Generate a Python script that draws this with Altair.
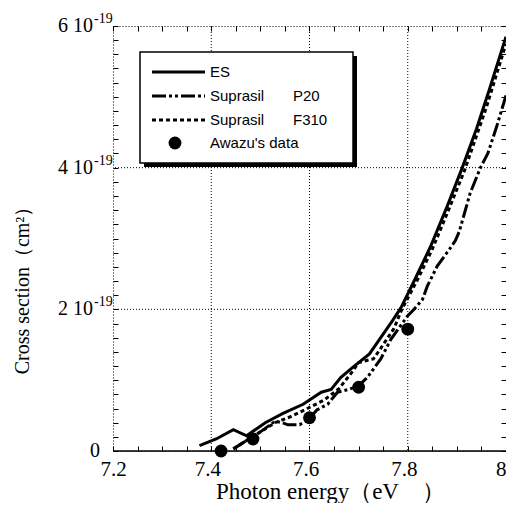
import altair as alt
import pandas as pd

# ---------------- data (x: photon energy eV, y: cross section in 1e-19 cm^2) ----------------
es_x = [7.376, 7.41, 7.445, 7.472, 7.51, 7.546, 7.587, 7.624, 7.644, 7.664, 7.688, 7.722,
        7.745, 7.769, 7.786, 7.813, 7.846, 7.88, 7.911, 7.94, 7.965, 8.0]
es_y = [0.075, 0.17, 0.30, 0.215, 0.40, 0.53, 0.66, 0.83, 0.87, 1.04, 1.18, 1.37,
        1.60, 1.84, 2.02, 2.40, 2.88, 3.45, 4.0, 4.55, 5.08, 5.85]

p20_x = [7.445, 7.47, 7.50, 7.53, 7.545, 7.556, 7.58, 7.60, 7.615, 7.637, 7.657, 7.68,
         7.70, 7.718, 7.745, 7.766, 7.80, 7.813, 7.83, 7.84, 7.86, 7.885, 7.897, 7.905,
         7.927, 7.948, 7.963, 7.981, 8.0]
p20_y = [0.03, 0.14, 0.27, 0.42, 0.40, 0.37, 0.37, 0.46, 0.58, 0.66, 0.83, 0.87,
         0.92, 1.04, 1.30, 1.58, 1.91, 2.0, 2.14, 2.33, 2.61, 2.85, 2.97, 3.10,
         3.64, 4.0, 4.2, 4.58, 5.02]

f310_x = [7.445, 7.47, 7.50, 7.53, 7.56, 7.59, 7.63, 7.66, 7.685, 7.70, 7.73, 7.745,
          7.772, 7.788, 7.82, 7.85, 7.88, 7.915, 7.96, 8.0]
f310_y = [0.03, 0.14, 0.27, 0.40, 0.48, 0.58, 0.72, 0.88, 1.10, 1.25, 1.30, 1.45,
          1.73, 2.0, 2.42, 2.85, 3.35, 3.95, 4.85, 5.75]

awazu_x = [7.42, 7.485, 7.60, 7.70, 7.80]
awazu_y = [0.0, 0.17, 0.47, 0.90, 1.72]

x_major = [7.4, 7.6, 7.8]
x_minor = [round(7.2 + 0.05 * i, 2) for i in range(17)]
y_grid = [2, 4]
y_minor = [round(0.2 * i, 1) for i in range(31)]
y_label_vals = [2, 4, 6]
y_label_text = ["2 10", "4 10", "6 10"]

legend_names = ["ES", "Suprasil", "Suprasil", "Awazu's data"]
legend_suffix = ["", "P20", "F310", ""]

# ---------------- layout ----------------
W, H = 393, 425
SERIF = "Liberation Serif"
SANS = "Liberation Sans"
NB = "\u00a0"

xs = alt.Scale(domain=[7.2, 8.0], nice=False, zero=False)
ys = alt.Scale(domain=[0, 6], nice=False, zero=False)


def frame(xv, yv, name):
    return pd.DataFrame({"x": xv, "y": yv, "series": name, "order": list(range(len(xv)))})


df_es = frame(es_x, es_y, "ES")
df_p20 = frame(p20_x, p20_y, "P20")
df_f310 = frame(f310_x, f310_y, "F310")
df_aw = pd.DataFrame({"x": awazu_x, "y": awazu_y})

label_expr = ("abs(datum.value*5 - round(datum.value*5)) < 0.001 ? "
              "(datum.value > 7.99 ? '8' : format(datum.value, '.1f')) : ''")

ax_bottom = alt.Axis(orient="bottom", values=x_minor, offset=-5, tickSize=5, ticks=True,
                     tickColor="black", tickWidth=1, domain=False, grid=False,
                     labelExpr=label_expr, labelFont=SERIF, labelFontSize=21,
                     labelColor="black", labelPadding=7, labelFlush=False,
                     labelOverlap=False,
                     labelAlign={"condition": {"test": "datum.value > 7.99", "value": "right"},
                                 "value": "center"},
                     labelOffset={"condition": {"test": "datum.value < 7.21 || datum.value > 7.99",
                                                "value": 0},
                                  "value": -4},
                     title="Photon energy（eV" + NB * 4 + "）", titleFont=SERIF,
                     titleFontSize=23, titleFontWeight="normal", titleColor="black",
                     titleX=217, titleY=45, titleAlign="center", titleBaseline="middle")
ax_left = alt.Axis(orient="left", values=y_minor, offset=-5, tickSize=5, ticks=True,
                   tickColor="black", tickWidth=1, domain=False, grid=False, labels=False,
                   title="Cross section（cm²）", titleFont=SERIF, titleFontSize=20,
                   titleFontWeight="normal", titleColor="black", titleAngle=270,
                   titleX=-96, titleY=259, titleAlign="center", titleBaseline="middle")
ax_top = alt.Axis(orient="top", values=x_minor, offset=-5, tickSize=5, ticks=True,
                  tickColor="black", tickWidth=1, domain=False, grid=False, labels=False,
                  title=None)
ax_right = alt.Axis(orient="right", values=y_minor, offset=-5, tickSize=5, ticks=True,
                    tickColor="black", tickWidth=1, domain=False, grid=False, labels=False,
                    title=None)

# grid lines (dotted)
grid_x = alt.Chart(pd.DataFrame({"v": x_major})).mark_rule(
    color="black", strokeWidth=1, strokeDash=[1, 2]).encode(
    x=alt.X("v:Q", scale=xs, axis=None))
grid_y = alt.Chart(pd.DataFrame({"v": y_grid})).mark_rule(
    color="black", strokeWidth=1, strokeDash=[1, 2]).encode(
    y=alt.Y("v:Q", scale=ys, axis=None))
base_line = alt.Chart(pd.DataFrame({"v": [0]})).mark_rule(
    color="black", strokeWidth=1.5).encode(
    y=alt.Y("v:Q", scale=ys, axis=None))

es = alt.Chart(df_es).mark_line(color="black", strokeWidth=3, clip=True).encode(
    x=alt.X("x:Q", scale=xs, axis=ax_bottom),
    y=alt.Y("y:Q", scale=ys, axis=ax_left),
    order="order:Q")
p20 = alt.Chart(df_p20).mark_line(color="black", strokeWidth=3, clip=True,
                                  strokeDash=[14, 3, 3, 3, 3, 3]).encode(
    x=alt.X("x:Q", scale=xs, axis=ax_top),
    y=alt.Y("y:Q", scale=ys, axis=ax_right),
    order="order:Q")
f310 = alt.Chart(df_f310).mark_line(color="black", strokeWidth=3, clip=True,
                                    strokeDash=[4, 3]).encode(
    x=alt.X("x:Q", scale=xs, axis=None),
    y=alt.Y("y:Q", scale=ys, axis=None),
    order="order:Q")
aw = alt.Chart(df_aw).mark_point(filled=True, color="black", size=165, opacity=1,
                                 shape="circle").encode(
    x=alt.X("x:Q", scale=xs, axis=None),
    y=alt.Y("y:Q", scale=ys, axis=None))

# y tick labels with superscript exponent
df_yl = pd.DataFrame({"v": y_label_vals, "t": y_label_text})
ylab = alt.Chart(df_yl).mark_text(font=SERIF, fontSize=20, align="right",
                                  baseline="middle", color="black").encode(
    x=alt.value(-20), y=alt.Y("v:Q", scale=ys, axis=None), text="t:N")
yexp = alt.Chart(df_yl).mark_text(font=SERIF, fontSize=14, align="left",
                                  baseline="middle", color="black", dy=-7).encode(
    x=alt.value(-19), y=alt.Y("v:Q", scale=ys, axis=None), text=alt.value("-19"))
yzero = alt.Chart(pd.DataFrame({"v": [0], "t": ["0"]})).mark_text(
    font=SERIF, fontSize=20, align="right", baseline="middle", color="black").encode(
    x=alt.value(-13), y=alt.Y("v:Q", scale=ys, axis=None), text="t:N")

# legend (hand-built box with drop shadow)
one = pd.DataFrame({"a": [0]})
legend_layers = [
    alt.Chart(one).mark_rect(color="black").encode(
        x=alt.value(31), x2=alt.value(244), y=alt.value(30), y2=alt.value(141)),
    alt.Chart(one).mark_rect(fill="white", stroke="black", strokeWidth=1.5).encode(
        x=alt.value(27), x2=alt.value(240), y=alt.value(26), y2=alt.value(137)),
]
row_y = [46, 70, 94, 117]
dashes = [None, [14, 3, 3, 3, 3, 3], [4, 3], None]
for i in range(4):
    if i < 3:
        kw = dict(color="black", strokeWidth=3)
        if dashes[i] is not None:
            kw["strokeDash"] = dashes[i]
        legend_layers.append(alt.Chart(one).mark_rule(**kw).encode(
            x=alt.value(39), x2=alt.value(92), y=alt.value(row_y[i])))
    else:
        legend_layers.append(alt.Chart(one).mark_point(
            filled=True, color="black", size=165, opacity=1, shape="circle").encode(
            x=alt.value(62), y=alt.value(row_y[i])))
    legend_layers.append(alt.Chart(pd.DataFrame({"t": [legend_names[i]]})).mark_text(
        font=SANS, fontSize=15, align="left", baseline="middle", color="black").encode(
        x=alt.value(97), y=alt.value(row_y[i]), text="t:N"))
    if legend_suffix[i]:
        legend_layers.append(alt.Chart(pd.DataFrame({"t": [legend_suffix[i]]})).mark_text(
            font=SANS, fontSize=15, align="left", baseline="middle", color="black").encode(
            x=alt.value(180), y=alt.value(row_y[i]), text="t:N"))

chart = alt.layer(
    grid_x, grid_y, base_line, es, p20, f310, aw, ylab, yexp, yzero, *legend_layers
).resolve_axis(x="independent", y="independent").properties(
    width=W, height=H,
    autosize=alt.AutoSizeParams(type="none"),
    padding={"left": 105, "top": 18, "right": 0, "bottom": 52},
    background="white",
).configure_view(stroke="black", strokeDash=[1, 2], strokeWidth=1)

chart.save("out.html", embed_options={"renderer": "svg", "actions": False})
